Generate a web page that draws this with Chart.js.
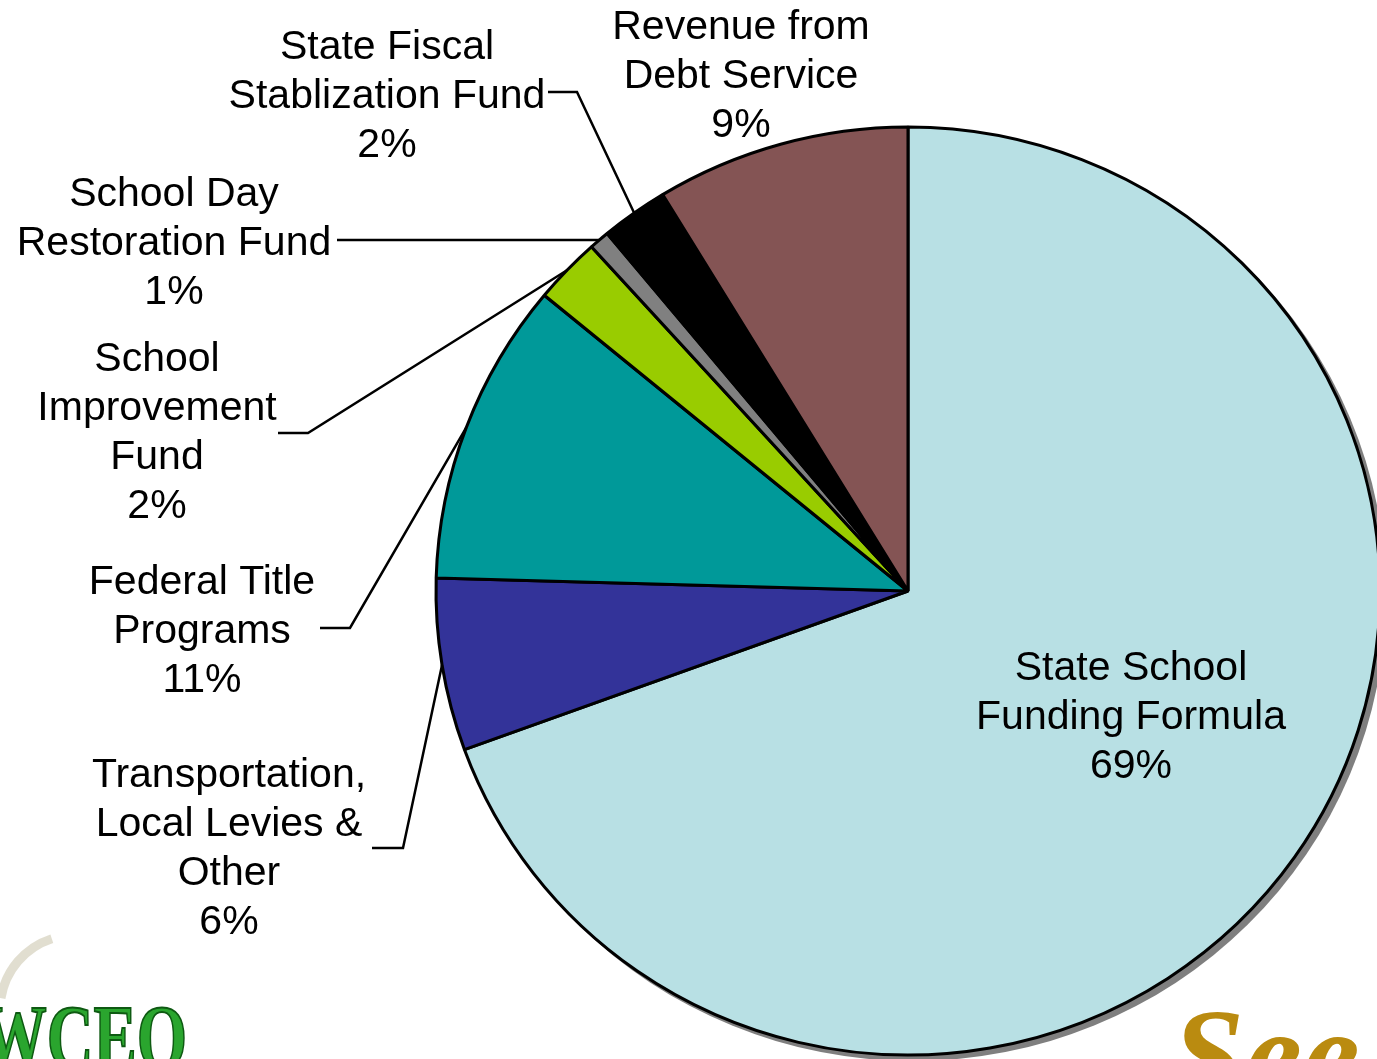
<!DOCTYPE html>
<html>
<head>
<meta charset="utf-8">
<script src="https://cdn.jsdelivr.net/npm/chart.js@4.4.0/dist/chart.umd.min.js"></script>
<style>
  body { margin: 0; background: #fff; }
  canvas { display: block; }
</style>
</head>
<body>
<canvas id="pieChart" width="1377" height="1059"></canvas>
<script>
// slice order: clockwise from 12 o'clock
const categories = [
    ['State School', 'Funding Formula'],
    ['Transportation,', 'Local Levies &', 'Other'],
    ['Federal Title', 'Programs'],
    ['School', 'Improvement', 'Fund'],
    ['School Day', 'Restoration Fund'],
    ['State Fiscal', 'Stablization Fund'],
    ['Revenue from', 'Debt Service']
];
const shares = [69.45, 6.0, 10.55, 2.3, 0.7, 2.3, 8.7];
const sliceColors = ['#B8E0E4', '#333399', '#009999', '#99CC00', '#808080', '#000000', '#845454'];

// where each label block sits (center x, first line y) and its leader elbow
const labelSpots = [
    { x: 1131, y: 669, lead: null },
    { x: 229, y: 776, lead: [[372, 848], [403, 848]] },
    { x: 202, y: 583, lead: [[320, 628], [350, 628]] },
    { x: 157, y: 360, lead: [[278, 433], [308, 433]] },
    { x: 174, y: 195, lead: [[337, 240]] },
    { x: 387, y: 48,  lead: [[548, 92], [577, 92]] },
    { x: 741, y: 28,  lead: null }
];

// the pie in the original is a touch wider than tall
const stretchX = 472 / 464;

const shapePlugin = {
    id: 'pieShape',
    beforeDatasetsDraw(chart) {
        const arc = chart.getDatasetMeta(0).data[0];
        if (!arc) return;
        const ctx = chart.ctx;
        ctx.save();
        ctx.translate(arc.x, arc.y);
        ctx.scale(stretchX, 1);
        ctx.translate(-arc.x, -arc.y);
        // drop shadow
        ctx.fillStyle = '#7f7f7f';
        ctx.beginPath();
        ctx.arc(arc.x + 5, arc.y + 5, arc.outerRadius + 1, 0, Math.PI * 2);
        ctx.fill();
    },
    afterDatasetsDraw(chart) {
        chart.ctx.restore();
    }
};

const labelPlugin = {
    id: 'sliceLabels',
    afterDatasetsDraw(chart) {
        const ctx = chart.ctx;
        const arcs = chart.getDatasetMeta(0).data;
        ctx.save();
        ctx.strokeStyle = '#000';
        ctx.lineWidth = 2.5;
        arcs.forEach((arc, i) => {
            const spot = labelSpots[i];
            if (!spot.lead) return;
            const mid = (arc.startAngle + arc.endAngle) / 2;
            const px = arc.x + Math.cos(mid) * arc.outerRadius * stretchX;
            const py = arc.y + Math.sin(mid) * arc.outerRadius;
            ctx.beginPath();
            ctx.moveTo(spot.lead[0][0], spot.lead[0][1]);
            for (let k = 1; k < spot.lead.length; k++) ctx.lineTo(spot.lead[k][0], spot.lead[k][1]);
            ctx.lineTo(px, py);
            ctx.stroke();
        });

        ctx.fillStyle = '#000';
        ctx.font = '41px "Liberation Sans", Arial, sans-serif';
        ctx.textAlign = 'center';
        ctx.textBaseline = 'middle';
        categories.forEach((lines, i) => {
            const spot = labelSpots[i];
            const all = lines.concat([Math.round(shares[i]) + '%']);
            all.forEach((t, k) => ctx.fillText(t, spot.x, spot.y + k * 49));
        });
        ctx.restore();
    }
};

const logoPlugin = {
    id: 'logos',
    afterDraw(chart) {
        const ctx = chart.ctx;
        ctx.save();
        // swoosh of the left logo
        ctx.strokeStyle = 'rgba(200,195,170,0.55)';
        ctx.lineWidth = 9;
        ctx.beginPath();
        ctx.arc(75, 1010, 75, Math.PI * 1.05, Math.PI * 1.4);
        ctx.stroke();
        // left logo text, condensed
        ctx.save();
        ctx.translate(-18, 1068);
        ctx.scale(0.72, 1);
        ctx.font = 'bold 90px "Liberation Serif", "Times New Roman", serif';
        ctx.textBaseline = 'alphabetic';
        ctx.textAlign = 'left';
        ctx.fillStyle = '#2AA52E';
        ctx.strokeStyle = '#0E5A12';
        ctx.lineWidth = 2;
        ctx.fillText('WCEO', 0, 0);
        ctx.strokeText('WCEO', 0, 0);
        ctx.restore();
        // right logo text
        ctx.font = 'italic bold 130px "Liberation Serif", "Times New Roman", serif';
        ctx.textBaseline = 'alphabetic';
        ctx.textAlign = 'left';
        ctx.fillStyle = '#BA8B10';
        ctx.fillText('See', 1172, 1098);
        ctx.restore();
    }
};

new Chart(document.getElementById('pieChart'), {
    type: 'pie',
    data: {
        labels: categories.map(l => l.join(' ')),
        datasets: [{
            data: shares,
            backgroundColor: sliceColors,
            borderColor: '#000',
            borderWidth: 3,
            radius: 464
        }]
    },
    options: {
        responsive: false,
        animation: false,
        layout: { padding: { left: 444, right: 5, top: 127, bottom: 4 } },
        plugins: {
            legend: { display: false },
            tooltip: { enabled: false }
        }
    },
    plugins: [shapePlugin, labelPlugin, logoPlugin]
});
</script>
</body>
</html>
